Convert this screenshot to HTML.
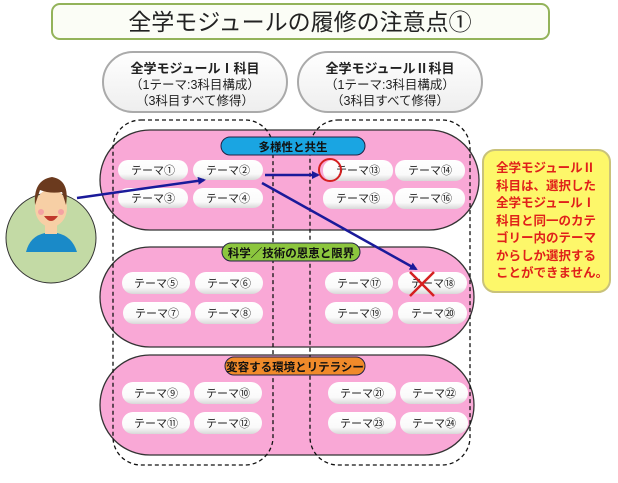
<!DOCTYPE html>
<html><head><meta charset="utf-8"><style>
body{margin:0;background:#fff;}
svg text{font-family:"Liberation Sans","Noto Sans CJK JP",sans-serif;}
</style></head><body>
<svg width="618" height="478" viewBox="0 0 618 478" xmlns="http://www.w3.org/2000/svg">
<defs>
<linearGradient id="pill" x1="0" y1="0" x2="0" y2="1"><stop offset="0" stop-color="#fff"/><stop offset="0.7" stop-color="#fafafa"/><stop offset="1" stop-color="#d8d8d8"/></linearGradient>
<linearGradient id="hdr" x1="0" y1="0" x2="0" y2="1"><stop offset="0" stop-color="#fff"/><stop offset="1" stop-color="#eee"/></linearGradient>
<marker id="ah" markerWidth="8" markerHeight="8" refX="6" refY="4" orient="auto" markerUnits="userSpaceOnUse"><path d="M0,0 L8,4 L0,8 z" fill="#1a1a9a"/></marker>
</defs>
<rect x="52" y="4" width="497" height="35" rx="8" fill="#fbfdf6" stroke="#93b35a" stroke-width="2"/>
<text x="300" y="30" font-size="23" text-anchor="middle" fill="#222">全学モジュールの履修の注意点①</text>
<rect x="103" y="52" width="184" height="60" rx="30" fill="url(#hdr)" stroke="#aaa" stroke-width="2"/>
<text x="195" y="73" font-size="13" font-weight="bold" text-anchor="middle" fill="#222">全学モジュールⅠ科目</text>
<text x="195" y="89" font-size="12.5" text-anchor="middle" fill="#222">（1テーマ:3科目構成）</text>
<text x="195" y="105" font-size="12.5" text-anchor="middle" fill="#222">（3科目すべて修得）</text>
<rect x="298" y="52" width="184" height="60" rx="30" fill="url(#hdr)" stroke="#aaa" stroke-width="2"/>
<text x="390" y="73" font-size="13" font-weight="bold" text-anchor="middle" fill="#222">全学モジュールⅡ科目</text>
<text x="390" y="89" font-size="12.5" text-anchor="middle" fill="#222">（1テーマ:3科目構成）</text>
<text x="390" y="105" font-size="12.5" text-anchor="middle" fill="#222">（3科目すべて修得）</text>
<rect x="100" y="130" width="379" height="100" rx="50" fill="#f9a8d6" stroke="#333" stroke-width="1.3"/>
<rect x="100" y="247" width="374" height="100" rx="50" fill="#f9a8d6" stroke="#333" stroke-width="1.3"/>
<rect x="100" y="355" width="374" height="100" rx="50" fill="#f9a8d6" stroke="#333" stroke-width="1.3"/>
<rect x="113" y="120" width="160" height="345" rx="28" fill="none" stroke="#111" stroke-width="1.3" stroke-dasharray="4,3"/>
<rect x="310" y="120" width="160" height="345" rx="28" fill="none" stroke="#111" stroke-width="1.3" stroke-dasharray="4,3"/>
<rect x="221" y="137" width="144" height="18" rx="9" fill="#1aa5e2" stroke="#224" stroke-width="1"/>
<text x="293" y="151" font-size="11.5" font-weight="bold" text-anchor="middle" fill="#111">多様性と共生</text>
<rect x="222" y="243" width="138" height="18" rx="9" fill="#8cc63e" stroke="#224" stroke-width="1"/>
<text x="291" y="257" font-size="11.5" font-weight="bold" text-anchor="middle" fill="#111">科学／技術の恩恵と限界</text>
<rect x="225" y="357" width="140" height="18" rx="9" fill="#f08a2a" stroke="#224" stroke-width="1"/>
<text x="295" y="371" font-size="11.5" font-weight="bold" text-anchor="middle" fill="#111">変容する環境とリテラシー</text>
<g font-size="11" text-anchor="middle" fill="#222">
<g>
<rect x="118" y="160" width="70" height="20" rx="10" fill="url(#pill)"/><text x="153" y="174">テーマ①</text>
<rect x="193" y="160" width="70" height="20" rx="10" fill="url(#pill)"/><text x="228" y="174">テーマ②</text>
<rect x="118" y="188" width="70" height="20" rx="10" fill="url(#pill)"/><text x="153" y="202">テーマ③</text>
<rect x="193" y="188" width="70" height="20" rx="10" fill="url(#pill)"/><text x="228" y="202">テーマ④</text>
<rect x="323" y="160" width="70" height="21" rx="10" fill="url(#pill)"/><text x="358" y="174">テーマ⑬</text>
<rect x="395" y="160" width="70" height="21" rx="10" fill="url(#pill)"/><text x="430" y="174">テーマ⑭</text>
<rect x="323" y="188" width="70" height="21" rx="10" fill="url(#pill)"/><text x="358" y="202">テーマ⑮</text>
<rect x="395" y="188" width="70" height="21" rx="10" fill="url(#pill)"/><text x="430" y="202">テーマ⑯</text>
</g>
<g>
<rect x="122" y="272" width="68" height="22" rx="11" fill="url(#pill)"/><text x="156" y="287">テーマ⑤</text>
<rect x="195" y="272" width="68" height="22" rx="11" fill="url(#pill)"/><text x="229" y="287">テーマ⑥</text>
<rect x="123" y="302" width="68" height="22" rx="11" fill="url(#pill)"/><text x="157" y="317">テーマ⑦</text>
<rect x="195" y="302" width="68" height="22" rx="11" fill="url(#pill)"/><text x="229" y="317">テーマ⑧</text>
<rect x="325" y="272" width="68" height="22" rx="11" fill="url(#pill)"/><text x="359" y="287">テーマ⑰</text>
<rect x="398" y="272" width="69" height="22" rx="11" fill="url(#pill)"/><text x="433" y="287">テーマ⑱</text>
<rect x="325" y="302" width="68" height="22" rx="11" fill="url(#pill)"/><text x="359" y="317">テーマ⑲</text>
<rect x="398" y="302" width="69" height="22" rx="11" fill="url(#pill)"/><text x="433" y="317">テーマ⑳</text>
</g>
<g>
<rect x="122" y="382" width="68" height="22" rx="11" fill="url(#pill)"/><text x="156" y="397">テーマ⑨</text>
<rect x="194" y="382" width="68" height="22" rx="11" fill="url(#pill)"/><text x="228" y="397">テーマ⑩</text>
<rect x="122" y="412" width="68" height="22" rx="11" fill="url(#pill)"/><text x="156" y="427">テーマ⑪</text>
<rect x="194" y="412" width="68" height="22" rx="11" fill="url(#pill)"/><text x="228" y="427">テーマ⑫</text>
<rect x="328" y="382" width="68" height="22" rx="11" fill="url(#pill)"/><text x="362" y="397">テーマ㉑</text>
<rect x="400" y="382" width="68" height="22" rx="11" fill="url(#pill)"/><text x="434" y="397">テーマ㉒</text>
<rect x="328" y="412" width="68" height="22" rx="11" fill="url(#pill)"/><text x="362" y="427">テーマ㉓</text>
<rect x="400" y="412" width="68" height="22" rx="11" fill="url(#pill)"/><text x="434" y="427">テーマ㉔</text>
</g>
</g>
<circle cx="330" cy="170" r="11" fill="none" stroke="#d42020" stroke-width="2"/>
<path d="M410,272 L434,296 M434,272 L410,296" stroke="#d42020" stroke-width="2.5"/>
<line x1="77" y1="198" x2="204" y2="180" stroke="#1a1a9a" stroke-width="2.5" marker-end="url(#ah)"/>
<line x1="265" y1="175" x2="318" y2="175" stroke="#1a1a9a" stroke-width="2.5" marker-end="url(#ah)"/>
<line x1="262" y1="183" x2="416" y2="269" stroke="#1a1a9a" stroke-width="2.5" marker-end="url(#ah)"/>
<rect x="483" y="150" width="127" height="142" rx="12" fill="#fdf76a" stroke="#c9c27a" stroke-width="2"/>
<g font-size="12.5" font-weight="bold" fill="#e0201a">
<text x="496" y="172">全学モジュールⅡ</text>
<text x="496" y="190">科目は、選択した</text>
<text x="496" y="207">全学モジュールⅠ</text>
<text x="496" y="225">科目と同一のカテ</text>
<text x="496" y="242">ゴリー内のテーマ</text>
<text x="496" y="260">からしか選択する</text>
<text x="496" y="277">ことができません。</text>
</g>
<circle cx="51" cy="238" r="45" fill="#c3daa5" stroke="#333" stroke-width="1"/>
<path d="M26,252 Q30,236 45,233 L57,233 Q72,236 77,252 Z" fill="#1a8ac8"/>
<rect x="45" y="222" width="12" height="12" fill="#f7cfa5"/>
<ellipse cx="51" cy="208" rx="16" ry="19" fill="#f7cfa5"/>
<path d="M35,205 Q33,180 52,177 Q70,180 66,205 L62,192 Q50,194 40,190 Z" fill="#6b3a1e"/>
<path d="M44,216 Q51,226 58,216 Z" fill="#c0392b"/>
<circle cx="41" cy="212" r="3" fill="#f4a3a3"/><circle cx="61" cy="212" r="3" fill="#f4a3a3"/>
</svg>
</body></html>
